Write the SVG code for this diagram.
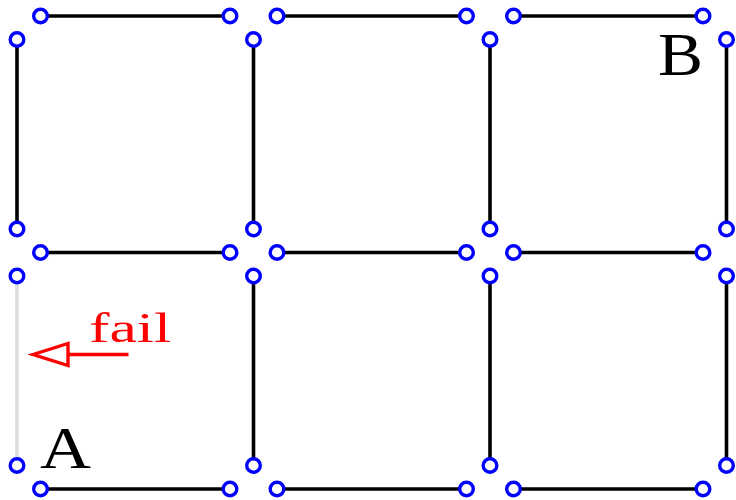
<svg xmlns="http://www.w3.org/2000/svg" width="736" height="500" viewBox="0 0 736 500">
<style>
.e{stroke:#000;stroke-width:3.6;fill:none}
.g{stroke:#dddddd;stroke-width:3.6;fill:none}
.n{stroke:#0000ff;stroke-width:3.4;fill:#fff}
.lbl{font-family:"Liberation Serif","DejaVu Serif",serif}
</style>
<rect width="736" height="500" fill="#fff"/>
<g id="connectors">
<line class="e" x1="40.5" y1="16" x2="230" y2="16"/>
<line class="e" x1="277" y1="16" x2="466.5" y2="16"/>
<line class="e" x1="513.5" y1="16" x2="703" y2="16"/>
<line class="e" x1="40.5" y1="252.5" x2="230" y2="252.5"/>
<line class="e" x1="277" y1="252.5" x2="466.5" y2="252.5"/>
<line class="e" x1="513.5" y1="252.5" x2="703" y2="252.5"/>
<line class="e" x1="40.5" y1="489" x2="230" y2="489"/>
<line class="e" x1="277" y1="489" x2="466.5" y2="489"/>
<line class="e" x1="513.5" y1="489" x2="703" y2="489"/>
<line class="e" x1="17" y1="39.5" x2="17" y2="229"/>
<line class="g" x1="17" y1="276" x2="17" y2="465.5"/>
<line class="e" x1="253.5" y1="39.5" x2="253.5" y2="229"/>
<line class="e" x1="253.5" y1="276" x2="253.5" y2="465.5"/>
<line class="e" x1="490" y1="39.5" x2="490" y2="229"/>
<line class="e" x1="490" y1="276" x2="490" y2="465.5"/>
<line class="e" x1="726.5" y1="39.5" x2="726.5" y2="229"/>
<line class="e" x1="726.5" y1="276" x2="726.5" y2="465.5"/>
</g>
<g id="nodes">
<circle class="n" cx="40.5" cy="16" r="6.8"/><circle class="n" cx="230" cy="16" r="6.8"/>
<circle class="n" cx="277" cy="16" r="6.8"/><circle class="n" cx="466.5" cy="16" r="6.8"/>
<circle class="n" cx="513.5" cy="16" r="6.8"/><circle class="n" cx="703" cy="16" r="6.8"/>
<circle class="n" cx="40.5" cy="252.5" r="6.8"/><circle class="n" cx="230" cy="252.5" r="6.8"/>
<circle class="n" cx="277" cy="252.5" r="6.8"/><circle class="n" cx="466.5" cy="252.5" r="6.8"/>
<circle class="n" cx="513.5" cy="252.5" r="6.8"/><circle class="n" cx="703" cy="252.5" r="6.8"/>
<circle class="n" cx="40.5" cy="489" r="6.8"/><circle class="n" cx="230" cy="489" r="6.8"/>
<circle class="n" cx="277" cy="489" r="6.8"/><circle class="n" cx="466.5" cy="489" r="6.8"/>
<circle class="n" cx="513.5" cy="489" r="6.8"/><circle class="n" cx="703" cy="489" r="6.8"/>
<circle class="n" cx="17" cy="39.5" r="6.8"/><circle class="n" cx="17" cy="229" r="6.8"/>
<circle class="n" cx="17" cy="276" r="6.8"/><circle class="n" cx="17" cy="465.5" r="6.8"/>
<circle class="n" cx="253.5" cy="39.5" r="6.8"/><circle class="n" cx="253.5" cy="229" r="6.8"/>
<circle class="n" cx="253.5" cy="276" r="6.8"/><circle class="n" cx="253.5" cy="465.5" r="6.8"/>
<circle class="n" cx="490" cy="39.5" r="6.8"/><circle class="n" cx="490" cy="229" r="6.8"/>
<circle class="n" cx="490" cy="276" r="6.8"/><circle class="n" cx="490" cy="465.5" r="6.8"/>
<circle class="n" cx="726.5" cy="39.5" r="6.8"/><circle class="n" cx="726.5" cy="229" r="6.8"/>
<circle class="n" cx="726.5" cy="276" r="6.8"/><circle class="n" cx="726.5" cy="465.5" r="6.8"/>
</g>
<g id="fail-arrow">
<line x1="128.5" y1="354.5" x2="68" y2="354.5" stroke="#ff0000" stroke-width="3.4"/>
<polygon points="33,354.5 68,343.5 68,365.5" fill="#fff" stroke="#ff0000" stroke-width="3.4" stroke-linejoin="miter"/>
<text class="lbl" x="89" y="342" font-size="43" fill="#ff0000" textLength="82" lengthAdjust="spacingAndGlyphs">fail</text>
</g>
<text class="lbl" x="40" y="468" font-size="60" fill="#000" textLength="51" lengthAdjust="spacingAndGlyphs">A</text>
<text class="lbl" x="658" y="75" font-size="62" fill="#000" textLength="45" lengthAdjust="spacingAndGlyphs">B</text>
</svg>
